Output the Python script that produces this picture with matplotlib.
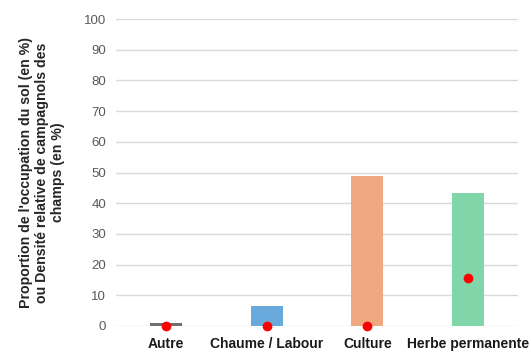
import matplotlib
matplotlib.use("Agg")
import matplotlib.pyplot as plt
import numpy as np

categories = ['Autre', 'Chaume / Labour', 'Culture', 'Herbe permanente']
occupation = [1.0, 6.5, 49.0, 43.3]
densite = [0.0, 0.0, 0.0, 15.5]
bar_colors = ['#6f6f6f', '#6aa9dc', '#f0a880', '#80d6a8']

plt.rcParams['font.family'] = ['Liberation Sans', 'DejaVu Sans']

fig = plt.figure(figsize=(5.31, 3.52), dpi=100)
ax = fig.add_axes([116/531, 1-326/352, 402/531, 307/352])

x = np.arange(len(categories))
ax.bar(x, occupation, width=0.32, color=bar_colors, zorder=2)
ax.scatter(x, densite, s=36, color='#ff0000', zorder=3, clip_on=False)

ax.set_xlim(-0.5, 3.5)
ax.set_ylim(0, 100)
ax.set_yticks(range(0, 101, 10))
ax.grid(axis='y', color='#d9d9d9', linewidth=1, zorder=0)
for s in ax.spines.values():
    s.set_visible(False)
ax.tick_params(axis='y', length=0, pad=7, labelsize=9.5, labelcolor='#595959')
ax.tick_params(axis='x', length=0, pad=8)
ax.set_xticks(x)
ax.set_xticklabels(categories, fontsize=10, fontweight='bold', color='#1a1a1a')
ax.set_ylabel("Proportion de l'occupation du sol (en %)\nou Densité relative de campagnols des\nchamps (en %)",
              fontsize=10.2, fontweight='bold', color='#262626', labelpad=14, linespacing=1.15)

fig.savefig('out.png', dpi=100)
